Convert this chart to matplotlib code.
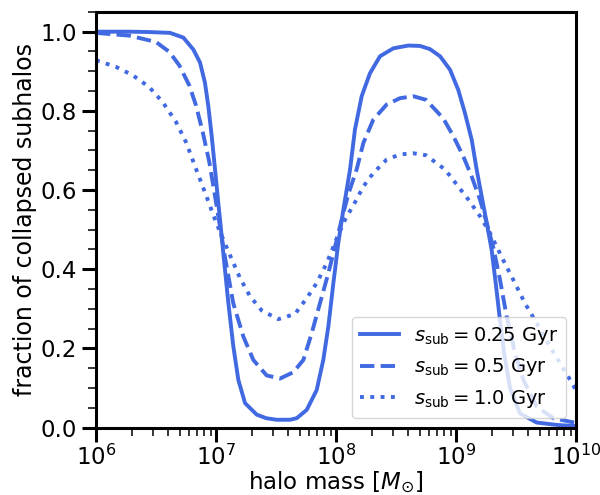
import numpy as np
import matplotlib
matplotlib.use("Agg")
import matplotlib.pyplot as plt
from matplotlib.ticker import MultipleLocator

# values: log10(halo mass) and collapsed fraction
logm_025 = [6.0, 6.283, 6.45, 6.617, 6.728, 6.811, 6.867, 6.908, 6.936, 6.964,
            6.992, 7.019, 7.039, 7.061, 7.103, 7.144, 7.186, 7.242, 7.339, 7.417,
            7.506, 7.617, 7.673, 7.756, 7.839, 7.894, 7.936, 7.978, 8.019, 8.061,
            8.117, 8.158, 8.214, 8.283, 8.367, 8.478, 8.603, 8.7, 8.783, 8.867,
            8.95, 9.019, 9.075, 9.131, 9.172, 9.214, 9.256, 9.297, 9.333, 9.367,
            9.4, 9.45, 9.533, 9.672, 9.839, 10.0]
frac_025 = [1.0, 1.0, 0.999, 0.997, 0.985, 0.955, 0.922, 0.871, 0.812, 0.737,
            0.652, 0.568, 0.509, 0.44, 0.315, 0.206, 0.121, 0.062, 0.033, 0.024,
            0.02, 0.02, 0.024, 0.045, 0.095, 0.171, 0.255, 0.365, 0.466, 0.55,
            0.652, 0.753, 0.837, 0.895, 0.938, 0.958, 0.965, 0.964, 0.956, 0.938,
            0.904, 0.853, 0.794, 0.727, 0.652, 0.584, 0.517, 0.449, 0.36, 0.27,
            0.19, 0.1, 0.036, 0.013, 0.007, 0.004]

logm_05 = [6.0, 6.278, 6.5, 6.611, 6.694, 6.778, 6.833, 6.889, 6.944, 7.0,
           7.075, 7.144, 7.228, 7.311, 7.422, 7.533, 7.644, 7.728, 7.797, 7.867,
           7.936, 7.992, 8.061, 8.103, 8.172, 8.228, 8.311, 8.422, 8.533, 8.644,
           8.75, 8.894, 8.978, 9.061, 9.131, 9.2, 9.256, 9.311, 9.367, 9.422,
           9.492, 9.561, 9.672, 9.811, 10.0]
frac_05 = [0.997, 0.99, 0.974, 0.949, 0.915, 0.864, 0.814, 0.747, 0.671, 0.57,
           0.43, 0.314, 0.23, 0.171, 0.132, 0.124, 0.14, 0.171, 0.238, 0.315,
           0.39, 0.457, 0.542, 0.59, 0.652, 0.719, 0.778, 0.816, 0.832, 0.837,
           0.828, 0.781, 0.736, 0.685, 0.634, 0.576, 0.517, 0.455, 0.373, 0.281,
           0.188, 0.121, 0.053, 0.024, 0.012]

logm_1 = [6.0, 6.167, 6.306, 6.444, 6.556, 6.667, 6.75, 6.833, 6.917, 7.0,
          7.103, 7.2, 7.283, 7.381, 7.519, 7.658, 7.756, 7.839, 7.922, 8.006,
          8.075, 8.158, 8.228, 8.311, 8.422, 8.533, 8.644, 8.75, 8.908, 9.006,
          9.103, 9.2, 9.283, 9.394, 9.478, 9.575, 9.672, 9.783, 9.867, 9.95, 10.0]
frac_1 = [0.928, 0.911, 0.89, 0.86, 0.822, 0.772, 0.721, 0.654, 0.587, 0.519,
          0.445, 0.378, 0.332, 0.296, 0.274, 0.287, 0.327, 0.365, 0.415, 0.478,
          0.525, 0.569, 0.609, 0.643, 0.677, 0.69, 0.693, 0.688, 0.652, 0.614,
          0.576, 0.534, 0.492, 0.423, 0.373, 0.314, 0.264, 0.205, 0.163, 0.121, 0.095]

labels = [r"$s_{\rm sub} = 0.25$ Gyr", r"$s_{\rm sub} = 0.5$ Gyr", r"$s_{\rm sub} = 1.0$ Gyr"]
styles = ["-", "--", ":"]

fig = plt.figure(figsize=(6, 4.95), dpi=100)
ax = fig.add_axes([0.16, 0.136, 0.80, 0.84])

for logm, frac, ls, lab in zip([logm_025, logm_05, logm_1],
                               [frac_025, frac_05, frac_1], styles, labels):
    ax.plot(10 ** np.array(logm), frac, ls=ls, color="royalblue", lw=2.8,
            solid_joinstyle="round", label=lab)

ax.set_xscale("log")
ax.set_xlim(1e6, 1e10)
ax.set_ylim(0, 1.05)
ax.yaxis.set_major_locator(MultipleLocator(0.2))
ax.yaxis.set_minor_locator(MultipleLocator(0.05))

ax.set_xlabel(r"halo mass [$M_{\odot}$]", fontsize=16.5, labelpad=0)
ax.set_ylabel("fraction of collapsed subhalos", fontsize=17, labelpad=3)

ax.tick_params(which="major", length=10, width=2.2, labelsize=16.5)
ax.tick_params(axis="x", which="major", pad=2)
ax.tick_params(which="minor", length=6, width=1.1)
for sp in ax.spines.values():
    sp.set_linewidth(2.2)

ax.legend(loc="lower right", fontsize=14)

fig.savefig("out.png", dpi=100)
